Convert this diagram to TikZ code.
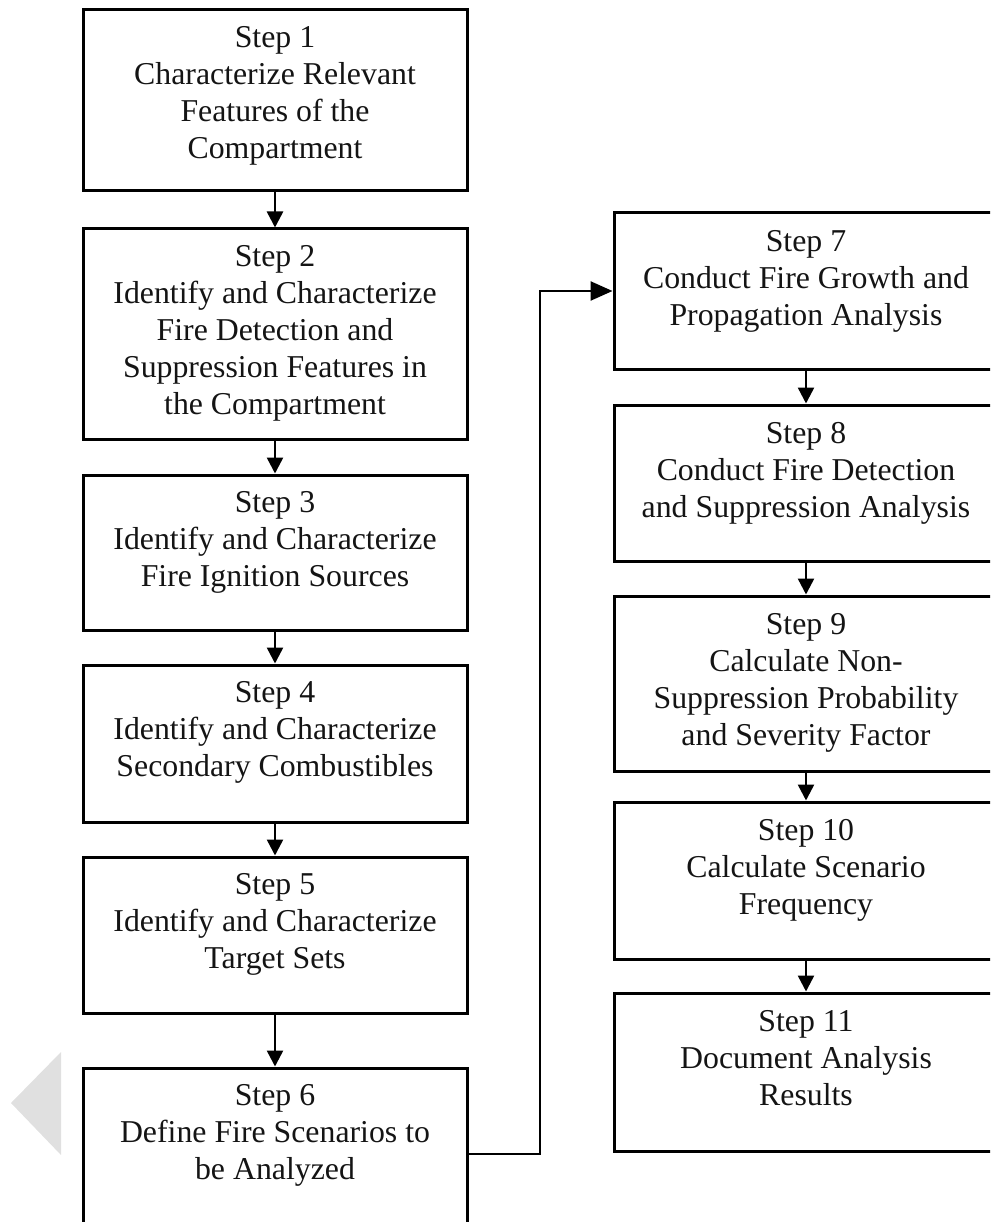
\documentclass[tikz,border=0pt]{standalone}
\usepackage{fontspec}
\setmainfont{Liberation Serif}
\usetikzlibrary{arrows.meta}
\begin{document}
\begin{tikzpicture}[x=1pt, y=-1pt,
  stepbox/.style={draw=black, line width=3pt, rectangle, minimum width=384pt, inner sep=0pt},
  steptext/.style={anchor=north, align=center, inner sep=0pt, text=black!92,
    font=\fontsize{31.8}{37}\selectfont},
  conn/.style={draw=black, line width=2.5pt, -{Triangle[length=16pt, width=16pt]}},
  bigconn/.style={draw=black, line width=2.5pt, -{Triangle[length=22pt, width=19pt]}},
]
\useasboundingbox (0,0) rectangle (990,1222);
\clip (0,0) rectangle (990,1222);

% faint grey pointer on the left margin
\fill[black!12] (11,1103) -- (61,1052) -- (61,1155) -- cycle;

% left column
\node[stepbox, minimum height=181pt] (s1) at (275,100.5) {};
\node[steptext] (s1t) at ([yshift=-18pt]s1.north) {Step 1\\Characterize Relevant\\Features of the\\Compartment};

\node[stepbox, minimum height=210pt] (s2) at (275,334) {};
\node[steptext] (s2t) at ([yshift=-18pt]s2.north) {Step 2\\Identify and Characterize\\Fire Detection and\\Suppression Features in\\the Compartment};

\node[stepbox, minimum height=155pt] (s3) at (275,552.5) {};
\node[steptext] (s3t) at ([yshift=-18pt]s3.north) {Step 3\\Identify and Characterize\\Fire Ignition Sources};

\node[stepbox, minimum height=157pt] (s4) at (275,743.5) {};
\node[steptext] (s4t) at ([yshift=-18pt]s4.north) {Step 4\\Identify and Characterize\\Secondary Combustibles};

\node[stepbox, minimum height=156pt] (s5) at (275,935) {};
\node[steptext] (s5t) at ([yshift=-18pt]s5.north) {Step 5\\Identify and Characterize\\Target Sets};

\node[stepbox, minimum height=172pt] (s6) at (275,1154) {};
\node[steptext] (s6t) at ([yshift=-18pt]s6.north) {Step 6\\Define Fire Scenarios to\\be Analyzed};

% right column
\node[stepbox, minimum height=156pt] (s7) at (806,291) {};
\node[steptext] (s7t) at ([yshift=-19pt]s7.north) {Step 7\\Conduct Fire Growth and\\Propagation Analysis};

\node[stepbox, minimum height=156pt] (s8) at (806,483) {};
\node[steptext] (s8t) at ([yshift=-19pt]s8.north) {Step 8\\Conduct Fire Detection\\and Suppression Analysis};

\node[stepbox, minimum height=175pt] (s9) at (806,683.5) {};
\node[steptext] (s9t) at ([yshift=-19pt]s9.north) {Step 9\\Calculate Non-\\Suppression Probability\\and Severity Factor};

\node[stepbox, minimum height=157pt] (s10) at (806,880.5) {};
\node[steptext] (s10t) at ([yshift=-19pt]s10.north) {Step 10\\Calculate Scenario\\Frequency};

\node[stepbox, minimum height=158pt] (s11) at (806,1072) {};
\node[steptext] (s11t) at ([yshift=-19pt]s11.north) {Step 11\\Document Analysis\\Results};

% connectors
\draw[conn] (s1) -- (s2);
\draw[conn] (s2) -- (s3);
\draw[conn] (s3) -- (s4);
\draw[conn] (s4) -- (s5);
\draw[conn] (s5) -- (s6);
\coordinate (rail) at (540,0);
\draw[bigconn] (s6.east) -| (rail |- s7.west) -- (s7.west);
\draw[conn] (s7) -- (s8);
\draw[conn] (s8) -- (s9);
\draw[conn] (s9) -- (s10);
\draw[conn] (s10) -- (s11);
\end{tikzpicture}
\end{document}
